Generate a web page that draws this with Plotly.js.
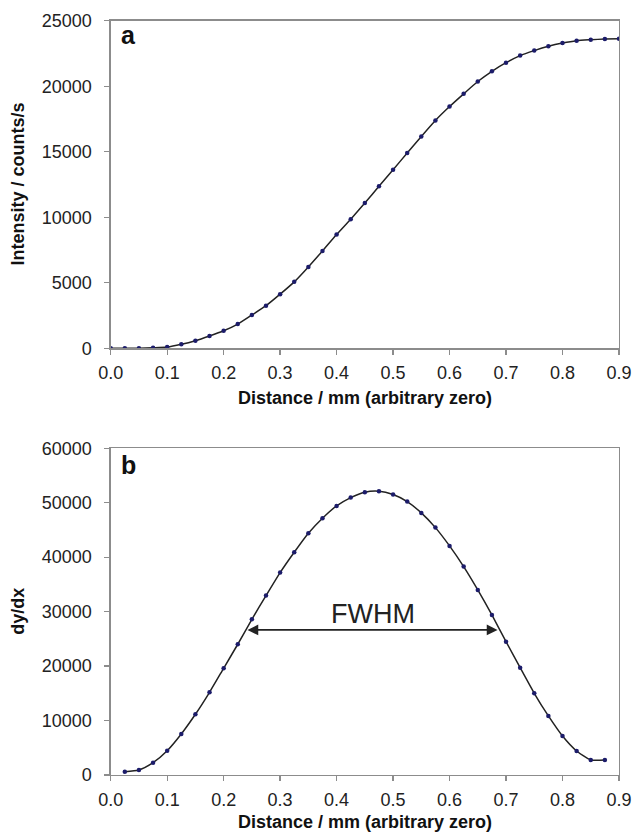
<!DOCTYPE html>
<html>
<head>
<meta charset="utf-8">
<script src="https://cdn.plot.ly/plotly-3.0.1.min.js"></script>
<style>html,body{margin:0;padding:0;background:#fff;}#chart{width:634px;height:839px;}</style>
</head>
<body>
<div id="chart"></div>
<script>
// Panel a: intensity vs distance
const distA = [0,0.025,0.05,0.075,0.1,0.125,0.15,0.175,0.2,0.225,0.25,0.275,0.3,0.325,0.35,0.375,0.4,0.425,0.45,0.475,0.5,0.525,0.55,0.575,0.6,0.625,0.65,0.675,0.7,0.725,0.75,0.775,0.8,0.825,0.85,0.875,0.9];
const intensity = [0,0,10,40,90,300,580,940,1340,1850,2540,3250,4130,5070,6210,7430,8680,9850,11080,12360,13630,14900,16170,17390,18450,19420,20360,21140,21800,22340,22720,23050,23300,23480,23550,23600,23630];
// Panel b: derivative vs distance
const distB = [0.025,0.05,0.075,0.1,0.125,0.15,0.175,0.2,0.225,0.25,0.275,0.3,0.325,0.35,0.375,0.4,0.425,0.45,0.475,0.5,0.525,0.55,0.575,0.6,0.625,0.65,0.675,0.7,0.725,0.75,0.775,0.8,0.825,0.85,0.875];
const dydx = [610,920,2260,4460,7530,11150,15190,19600,24010,28600,32940,37170,40910,44400,47160,49420,50950,51940,52120,51500,50210,48130,45430,42070,38270,33990,29390,24490,19710,15010,10840,7160,4410,2760,2760];
// FWHM arrow
const fwhmStart = 0.2395, fwhmEnd = 0.685, fwhmLevel = 26640;
const fwhmLabelX = 0.4636, fwhmLabelY = 29600;

const xTicks = [0,0.1,0.2,0.3,0.4,0.5,0.6,0.7,0.8,0.9];
const xTickText = ['0.0','0.1','0.2','0.3','0.4','0.5','0.6','0.7','0.8','0.9'];

const lineCol = '#222222', markCol = '#1c1c6a', axCol = '#8c8c8c';
const fam = 'Liberation Sans, Arial, sans-serif';
const tickFont = {family:fam, size:18, color:'#222'};
const titleFont = {family:fam, size:18, color:'#111', weight:'bold'};

function trace(x, y, xa, ya){
  return {x:x, y:y, xaxis:xa, yaxis:ya, type:'scatter', mode:'lines+markers',
    line:{color:lineCol, width:1.5, shape:'spline', smoothing:0.6},
    marker:{color:markCol, size:4.5}, showlegend:false, hoverinfo:'skip'};
}

function xaxis(anchor){
  return {domain:[0.1746,0.9763], range:[0,0.9], anchor:anchor, tickvals:xTicks, ticktext:xTickText,
    showgrid:false, zeroline:false, showline:true, linecolor:axCol, linewidth:1.3, mirror:true,
    ticks:'outside', ticklen:5, tickcolor:axCol, tickwidth:1.3, tickfont:tickFont, ticklabelstandoff:3};
}
function yaxis(anchor, domain, range, dtick){
  return {domain:domain, range:range, anchor:anchor, dtick:dtick, tickformat:'d',
    showgrid:false, zeroline:false, showline:true, linecolor:axCol, linewidth:1.3, mirror:true,
    ticks:'outside', ticklen:5, tickcolor:axCol, tickwidth:1.3, tickfont:tickFont, ticklabelstandoff:9};
}

const data = [trace(distA, intensity, 'x', 'y'), trace(distB, dydx, 'x2', 'y2')];

const layout = {
  width:634, height:839, margin:{l:0,r:0,t:0,b:0}, paper_bgcolor:'#fff', plot_bgcolor:'#fff',
  xaxis: xaxis('y'),
  yaxis: yaxis('x', [0.5849,0.9753], [0,25000], 5000),
  xaxis2: xaxis('y2'),
  yaxis2: yaxis('x2', [0.0763,0.4657], [0,60000], 10000),
  annotations:[
    {text:'Distance / mm (arbitrary zero)', xref:'paper', yref:'paper', x:0.5755, y:0.5262, showarrow:false, font:titleFont, xanchor:'center', yanchor:'middle'},
    {text:'Distance / mm (arbitrary zero)', xref:'paper', yref:'paper', x:0.5755, y:0.0197, showarrow:false, font:titleFont, xanchor:'center', yanchor:'middle'},
    {text:'Intensity / counts/s', xref:'paper', yref:'paper', x:0.0284, y:0.780, showarrow:false, font:titleFont, textangle:-90, xanchor:'center', yanchor:'middle'},
    {text:'dy/dx', xref:'paper', yref:'paper', x:0.0284, y:0.271, showarrow:false, font:titleFont, textangle:-90, xanchor:'center', yanchor:'middle'},
    {text:'a', xref:'paper', yref:'paper', x:0.1877, y:0.9583, showarrow:false, font:{family:fam, size:25, color:'#111', weight:'bold'}, xanchor:'left', yanchor:'middle'},
    {text:'b', xref:'paper', yref:'paper', x:0.1877, y:0.4455, showarrow:false, font:{family:fam, size:25, color:'#111', weight:'bold'}, xanchor:'left', yanchor:'middle'},
    {text:'FWHM', xref:'x2', yref:'y2', x:fwhmLabelX, y:fwhmLabelY, showarrow:false, font:{family:fam, size:27, color:'#222'}, xanchor:'center', yanchor:'middle'},
    {text:'', xref:'x2', yref:'y2', x:fwhmEnd, y:fwhmLevel, axref:'x2', ayref:'y2', ax:fwhmStart, ay:fwhmLevel,
     showarrow:true, arrowside:'end+start', arrowhead:2, arrowsize:1.2, arrowwidth:1.8, arrowcolor:'#222', standoff:0, startstandoff:0}
  ]
};

Plotly.newPlot('chart', data, layout, {displayModeBar:false, staticPlot:true});
</script>
</body>
</html>
